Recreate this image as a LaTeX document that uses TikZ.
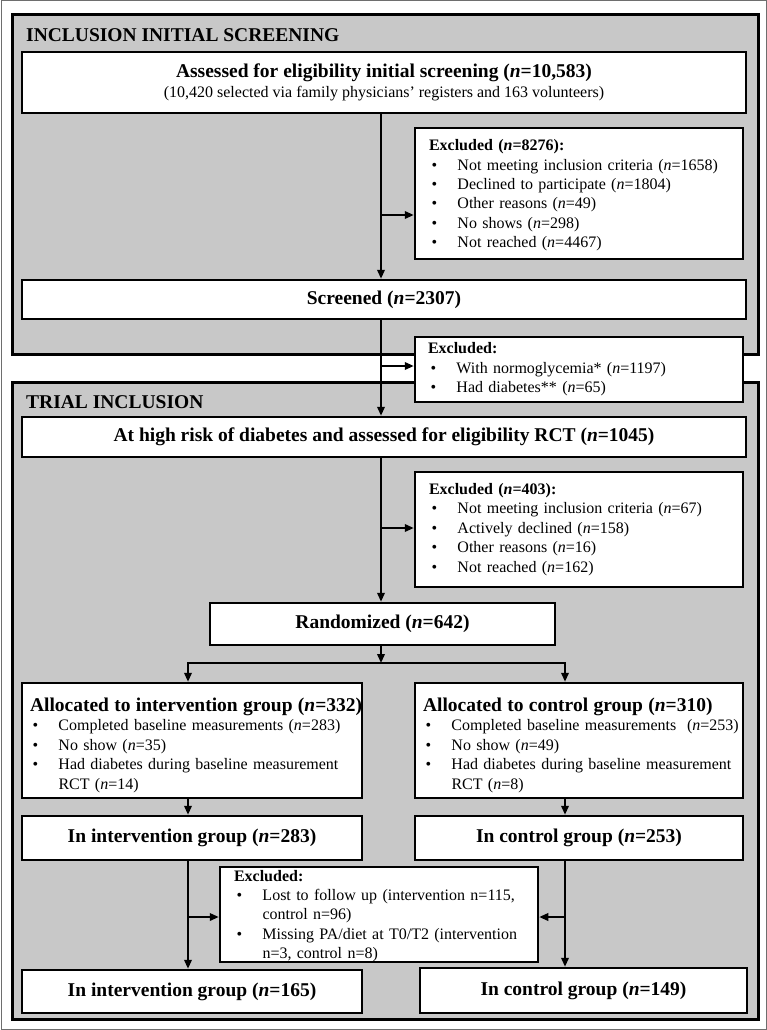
\documentclass[tikz,border=0pt]{standalone}
\usepackage{fontspec}
\setmainfont{Liberation Serif}
\usetikzlibrary{arrows.meta}
\definecolor{panelgray}{RGB}{200,200,200}
\definecolor{framegray}{RGB}{110,110,110}
\setlength{\parindent}{0pt}
\newcommand\bigtxt{\fontsize{19.5}{23}\selectfont\bfseries}
\newcommand\smtxt{\fontsize{16}{19.4}\selectfont}
\newcommand\bitem[1]{\par\hangindent=28.5pt\hangafter=1\noindent\makebox[28.5pt][l]{\hspace{2.5pt}\textbullet}#1\par}
\tikzset{
  panel/.style={draw=black, line width=3pt, fill=panelgray, inner sep=0pt},
  box/.style={draw=black, line width=2.5pt, fill=white, inner sep=0pt},
  cbox/.style={box, align=center, font=\bigtxt},
  lbox/.style={box, align=left, font=\smtxt},
  conn/.style={line width=2pt, -{Triangle[length=9pt,width=7.5pt]}},
  plain/.style={line width=2pt},
  ptitle/.style={anchor=west, inner sep=0pt, font=\bigtxt},
}
\begin{document}
\begin{tikzpicture}[x=1pt,y=-1pt]
\useasboundingbox (0,0) rectangle (767,1030);
\draw[framegray, line width=1pt] (1,1) rectangle (766,1029);
% panels
\node[panel, minimum width=746, minimum height=339] (P1) at (385.5,184.5) {};
\node[panel, minimum width=746, minimum height=637] (P2) at (385.5,700.5) {};
\node[ptitle] (T1) at (26,35) {INCLUSION INITIAL SCREENING};
\node[ptitle] (T2) at (26,402) {TRIAL INCLUSION};
% boxes
\node[cbox, minimum width=724, minimum height=61] (A) at (384,82.5)
  {Assessed for eligibility initial screening (\textit{n}=10,583)\\[-3pt]
   \smtxt\mdseries (10,420 selected via family physicians’ registers and 163 volunteers)};
\node[lbox, minimum width=328, minimum height=131, text width=300] (E1) at (579,193.5)
  {\rule{0pt}{15pt}\textbf{Excluded (\textit{n}=8276):}
   \bitem{Not meeting inclusion criteria (\textit{n}=1658)}
   \bitem{Declined to participate (\textit{n}=1804)}
   \bitem{Other reasons (\textit{n}=49)}
   \bitem{No shows (\textit{n}=298)}
   \bitem{Not reached (\textit{n}=4467)}};
\node[cbox, minimum width=724, minimum height=39] (S) at (384,299.5) {Screened (\textit{n}=2307)};
\node[lbox, minimum width=328, minimum height=65, text width=302] (E2) at (579,369.5)
  {\textbf{Excluded:}
   \bitem{With normoglycemia* (\textit{n}=1197)}
   \bitem{Had diabetes** (\textit{n}=65)}};
\node[cbox, minimum width=724, minimum height=40] (B) at (384,437)
  {At high risk of diabetes and assessed for eligibility RCT (\textit{n}=1045)};
\node[lbox, minimum width=328, minimum height=115, text width=300] (E3) at (579,529.5)
  {\textbf{Excluded (\textit{n}=403):}
   \bitem{Not meeting inclusion criteria (\textit{n}=67)}
   \bitem{Actively declined (\textit{n}=158)}
   \bitem{Other reasons (\textit{n}=16)}
   \bitem{Not reached (\textit{n}=162)}};
\node[cbox, minimum width=345, minimum height=42] (R) at (382.5,624) {Randomized (\textit{n}=642)};
\node[lbox, minimum width=340, minimum height=115, text width=324] (C) at (192,740.5)
  {\rule{0pt}{23pt}\mbox{\bigtxt Allocated to intervention group (\textit{n}=332)}
   \bitem{\mbox{Completed baseline measurements (\textit{n}=283)}}
   \bitem{No show (\textit{n}=35)}
   \bitem{Had diabetes during baseline measurement\newline RCT (\textit{n}=14)}};
\node[lbox, minimum width=328, minimum height=115, text width=312] (D) at (579,740.5)
  {\rule{0pt}{23pt}\mbox{\bigtxt Allocated to control group (\textit{n}=310)}
   \bitem{\mbox{Completed baseline measurements\ \ (\textit{n}=253)}}
   \bitem{No show (\textit{n}=49)}
   \bitem{Had diabetes during baseline measurement\newline RCT (\textit{n}=8)}};
\node[cbox, minimum width=340, minimum height=44] (IC1) at (192,838) {In intervention group (\textit{n}=283)};
\node[cbox, minimum width=328, minimum height=44] (ID1) at (579,838) {In control group (\textit{n}=253)};
\node[lbox, minimum width=318, minimum height=95, text width=290] (E4) at (379,914.5)
  {\rule{0pt}{14pt}\textbf{Excluded:}
   \bitem{Lost to follow up (intervention n=115,\newline control n=96)}
   \bitem{Missing PA/diet at T0/T2 (intervention\newline n=3, control n=8)}};
\node[cbox, minimum width=340, minimum height=43] (IC2) at (192,991.5) {In intervention group (\textit{n}=165)};
\node[cbox, minimum width=327, minimum height=45] (ID2) at (583.5,990.5) {In control group (\textit{n}=149)};
% connectors
\coordinate (sp) at (381,0);
\draw[conn] (A.south -| sp) -- (S.north -| sp);
\coordinate (j1) at (381,215);
\draw[conn] (j1) -- (j1 -| E1.west);
\draw[conn] (S.south -| sp) -- (B.north -| sp);
\coordinate (j2) at (381,366);
\draw[conn] (j2) -- (j2 -| E2.west);
\draw[conn] (B.south -| sp) -- (R.north -| sp);
\coordinate (j3) at (381,528);
\draw[conn] (j3) -- (j3 -| E3.west);
\coordinate (br) at (381,663);
\draw[conn] (R.south -| sp) -- (br);
\coordinate (bl) at (188,663);
\coordinate (brr) at (565,663);
\draw[plain, line cap=rect] (bl) -- (brr);
\draw[conn] (bl) -- (C.north -| bl);
\draw[conn] (brr) -- (D.north -| brr);
\draw[conn] (C.south -| bl) -- (IC1.north -| bl);
\draw[conn] (D.south -| brr) -- (ID1.north -| brr);
\draw[conn] (IC1.south -| bl) -- (IC2.north -| bl);
\draw[conn] (ID1.south -| brr) -- (ID2.north -| brr);
\coordinate (k1) at (188,917);
\coordinate (k2) at (565,917);
\draw[conn] (k1) -- (k1 -| E4.west);
\draw[conn] (k2) -- (k2 -| E4.east);
\end{tikzpicture}
\end{document}
